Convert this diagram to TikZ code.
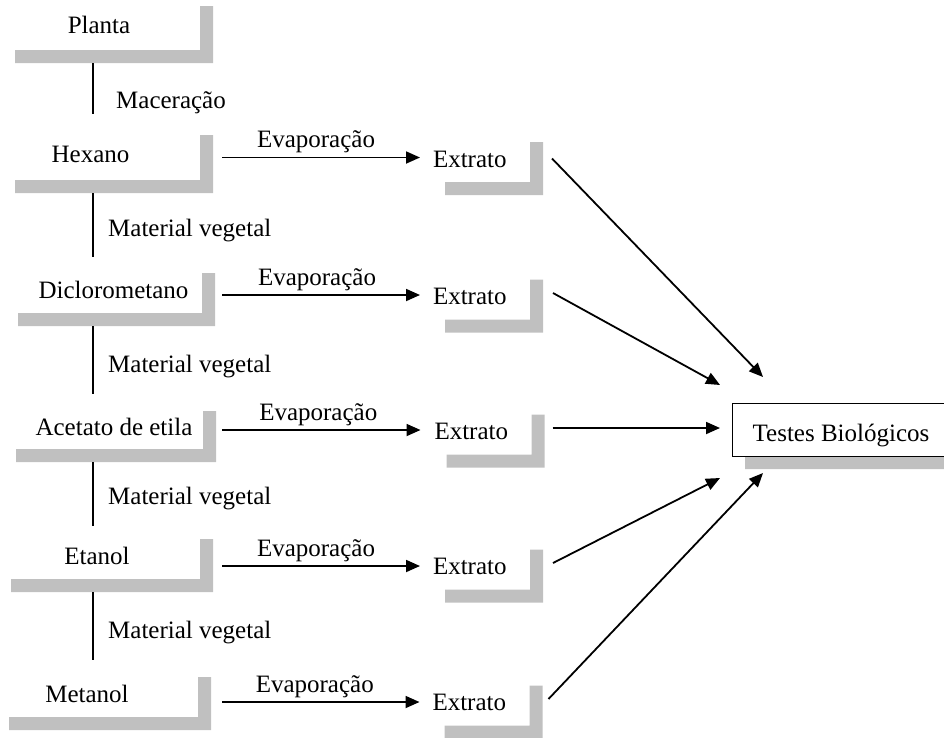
\documentclass[tikz,border=0pt]{standalone}
\usepackage{fontspec}
\setmainfont{Liberation Serif}
\usepackage{tikz}
\usetikzlibrary{arrows.meta, backgrounds}
\definecolor{cinza}{RGB}{192,192,192}
\tikzset{
  caixa/.style={rectangle, inner sep=0pt, outer sep=0pt, minimum width=200pt, minimum height=53pt,
    text height=23pt, text depth=0pt},
  recuo/.style={execute at begin node={\hspace*{#1}}},
  extrato/.style={caixa, minimum width=98pt, text width=96pt, inner xsep=1pt, align=left},
  seta/.style={-{Triangle[length=14pt, width=12pt]}, line width=1.8pt},
  ligacao/.style={line width=1.7pt},
}
\newcommand{\sombra}[1]{%
  \fill[cinza] ([yshift=-13pt]#1.north east) -- ([xshift=13pt, yshift=-13pt]#1.north east)
    -- ([xshift=13pt, yshift=-13pt]#1.south east) -- ([xshift=13pt, yshift=-13pt]#1.south west)
    -- ([xshift=13pt]#1.south west) -- (#1.south east) -- cycle;}

\begin{document}
\begin{tikzpicture}[x=1pt, y=-1pt, every node/.style={font=\fontsize{25}{30}\selectfont}]
    \useasboundingbox (0,0) rectangle (944,737);
    % solventes
    \node[caixa, recuo=-4pt, minimum width=198pt, minimum height=57pt] (planta) at (101,21.5){Planta};
    \node[caixa, recuo=-21pt, minimum width=198pt, minimum height=58pt] (hexano) at (101,151){Hexano};
    \node[caixa, recuo=20pt, minimum width=197pt] (dicloro) at (103.5,286.5){Diclorometano};
    \node[caixa, recuo=22pt, minimum height=51pt] (acetato) at (103,423.5){Acetato de etila};
    \node[caixa, recuo=-4pt, minimum width=202pt] (etanol) at (99,552.5){Etanol};
    \node[caixa, recuo=-20pt, minimum width=202pt] (metanol) at (97,690.5){Metanol};
    % extratos
    \node[extrato] (extrato1) at (481,155.5){Extrato};
    \node[extrato] (extrato2) at (481,293){Extrato};
    \node[extrato] (extrato3) at (482.5,428){Extrato};
    \node[extrato] (extrato4) at (481,563){Extrato};
    \node[extrato] (extrato5) at (480.5,699){Extrato};
    \node[caixa, draw, line width=1pt, minimum width=218pt] (testes) at (841,429.5){Testes Biológicos};
    \begin{scope}[on background layer]
      \foreach \n in {planta, hexano, dicloro, acetato, etanol, metanol,
        extrato1, extrato2, extrato3, extrato4, extrato5, testes}
        {\sombra{\n}}
    \end{scope}
    % material vegetal
    \coordinate (eixo) at (93,0);
    \draw[ligacao, shorten <=13pt, shorten >=8pt] (planta.south -| eixo) -- (hexano.north -| eixo)
      node[midway, right, xshift=19pt, yshift=-17pt]{Maceração};
    \draw[ligacao, shorten <=13pt, shorten >=3pt] (hexano.south -| eixo) -- (dicloro.north -| eixo)
      node[midway, right, xshift=11pt, yshift=-11pt]{Material vegetal};
    \draw[ligacao, shorten <=13pt, shorten >=4pt] (dicloro.south -| eixo) -- (acetato.north -| eixo)
      node[midway, right, xshift=11pt, yshift=-11pt]{Material vegetal};
    \draw[ligacao, shorten <=13pt, shorten >=0pt] (acetato.south -| eixo) -- (etanol.north -| eixo)
      node[midway, right, xshift=11pt, yshift=-11pt]{Material vegetal};
    \draw[ligacao, shorten <=13pt, shorten >=4pt] (etanol.south -| eixo) -- (metanol.north -| eixo)
      node[midway, right, xshift=11pt, yshift=-11pt]{Material vegetal};
    % evaporacao
    \draw[seta, shorten <=22pt, shorten >=12pt] ([yshift=-2pt]hexano.east |- extrato1.west) -- ([yshift=-2pt]extrato1.west)
      node[midway, above]{Evaporação};
    \draw[seta, shorten <=20pt, shorten >=12pt] ([yshift=-2pt]dicloro.east |- extrato2.west) -- ([yshift=-2pt]extrato2.west)
      node[midway, above]{Evaporação};
    \draw[seta, shorten <=19pt, shorten >=13pt] ([yshift=-2pt]acetato.east |- extrato3.west) -- ([yshift=-2pt]extrato3.west)
      node[midway, above]{Evaporação};
    \draw[seta, shorten <=22pt, shorten >=12pt] ([yshift=-3pt]etanol.east |- extrato4.west) -- ([yshift=-3pt]extrato4.west)
      node[midway, above]{Evaporação};
    \draw[seta, shorten <=24pt, shorten >=12pt] ([yshift=-3pt]metanol.east |- extrato5.west) -- ([yshift=-3pt]extrato5.west)
      node[midway, above]{Evaporação};
    % testes
    \draw[seta] ([xshift=22pt, yshift=-3pt]extrato1.east) -- ([xshift=31pt, yshift=26pt]testes.north west);
    \draw[seta] ([xshift=23pt]extrato2.east) -- ([xshift=-12pt, yshift=18pt]testes.north west);
    \draw[seta, shorten <=21pt, shorten >=12pt] (extrato3.east) -- (extrato3.east -| testes.west);
    \draw[seta] ([xshift=23pt]extrato4.east) -- ([xshift=-12pt, yshift=-22pt]testes.south west);
    \draw[seta] ([xshift=19pt]extrato5.east) -- ([xshift=31pt, yshift=-17pt]testes.south west);
\end{tikzpicture}
\end{document}
